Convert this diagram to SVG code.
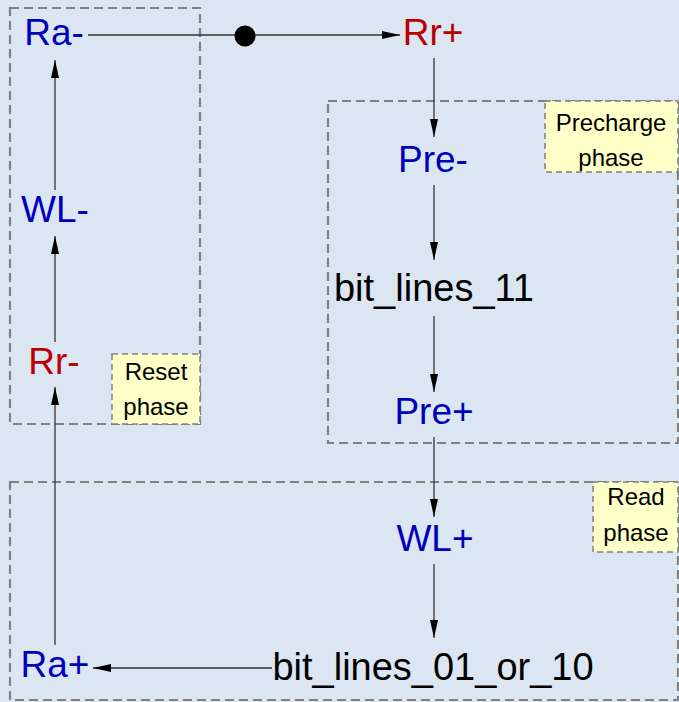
<svg xmlns="http://www.w3.org/2000/svg" width="679" height="702" viewBox="0 0 679 702">
<defs>
<marker id="ah" viewBox="0 0 18 8" refX="18" refY="4" markerWidth="18" markerHeight="8" markerUnits="userSpaceOnUse" orient="auto">
<path d="M0,0 L18,4 L0,8 Z" fill="#000"/>
</marker>
</defs>
<style>
.bg{fill:#dce6f2}
.phase{fill:none;stroke:#808080;stroke-width:2.2;stroke-dasharray:9,5}
.lab{fill:#ffffc8;stroke:#808080;stroke-width:1.5;stroke-dasharray:6,4}
.lt{font-family:"Liberation Sans",Arial,sans-serif;font-size:24px;fill:#000;text-anchor:middle}
.n{font-family:"Liberation Sans",Arial,sans-serif;font-size:37px;text-anchor:middle}
.big{font-size:38px}
.blue{fill:#0000bb}
.red{fill:#bb0000}
.black{fill:#000}
.c{fill:none;stroke:#333;stroke-width:1.3;marker-end:url(#ah)}
</style>
<rect class="bg" x="0" y="0" width="679" height="702"/>
<g id="reset-phase">
<rect class="phase" x="10" y="8" width="190" height="416"/>
<rect class="lab" x="112" y="354" width="88" height="70"/>
<text class="lt" x="156" y="380">Reset</text>
<text class="lt" x="156" y="415">phase</text>
</g>
<g id="precharge-phase">
<rect class="phase" x="328" y="101" width="350" height="342"/>
<rect class="lab" x="545" y="101" width="133" height="71"/>
<text class="lt" x="611" y="131">Precharge</text>
<text class="lt" x="611" y="166">phase</text>
</g>
<g id="read-phase">
<rect class="phase" x="10" y="482" width="668" height="218"/>
<rect class="lab" x="593" y="482" width="85" height="70"/>
<text class="lt" x="636" y="505">Read</text>
<text class="lt" x="636" y="541">phase</text>
</g>
<g id="connectors">
<line class="c" x1="88" y1="35" x2="400" y2="35"/>
<circle cx="245" cy="36" r="10.5" fill="#000"/>
<line class="c" x1="434" y1="58" x2="434" y2="137"/>
<line class="c" x1="434" y1="185" x2="434" y2="260"/>
<line class="c" x1="434" y1="316" x2="434" y2="392"/>
<line class="c" x1="434" y1="437" x2="434" y2="517"/>
<line class="c" x1="434" y1="564" x2="434" y2="638"/>
<line class="c" x1="272" y1="668" x2="93" y2="668"/>
<line class="c" x1="55" y1="645" x2="55" y2="387"/>
<line class="c" x1="55" y1="342" x2="55" y2="236"/>
<line class="c" x1="55" y1="190" x2="55" y2="60"/>
</g>
<g id="node-ra-minus"><text class="n blue" x="54" y="45">Ra-</text></g>
<g id="node-rr-plus"><text class="n red" x="433" y="45">Rr+</text></g>
<g id="node-pre-minus"><text class="n blue" x="433" y="172">Pre-</text></g>
<g id="node-bit-lines-11"><text class="n big black" x="434" y="301">bit_lines_11</text></g>
<g id="node-pre-plus"><text class="n blue" x="434" y="424">Pre+</text></g>
<g id="node-wl-plus"><text class="n blue" x="435" y="551">WL+</text></g>
<g id="node-bit-lines-01-or-10"><text class="n big black" x="433" y="680">bit_lines_01_or_10</text></g>
<g id="node-ra-plus"><text class="n blue" x="55" y="677">Ra+</text></g>
<g id="node-rr-minus"><text class="n red" x="54" y="374">Rr-</text></g>
<g id="node-wl-minus"><text class="n blue" x="55" y="222">WL-</text></g>
</svg>
